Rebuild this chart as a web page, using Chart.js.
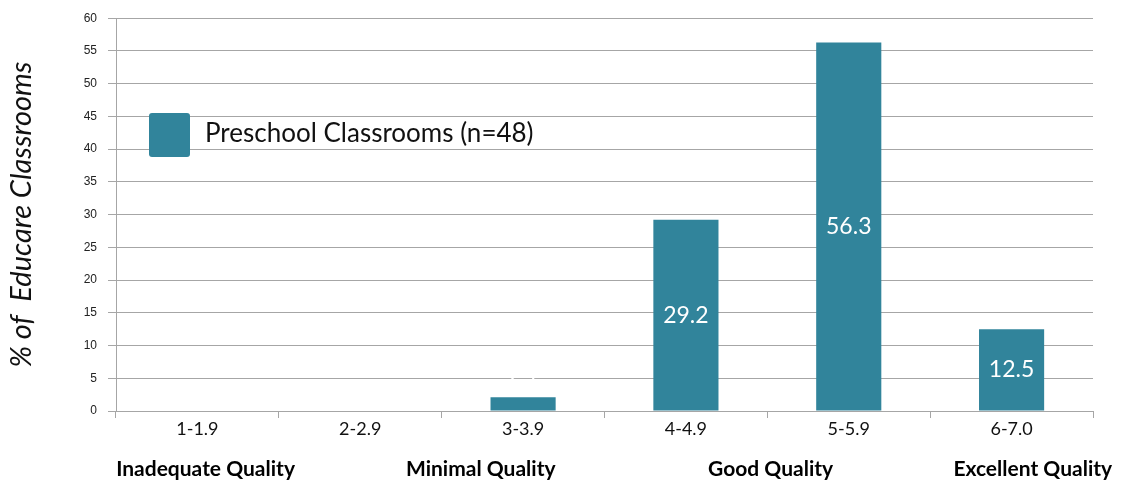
<!DOCTYPE html>
<html>
<head>
<meta charset="utf-8">
<script src="https://cdn.jsdelivr.net/npm/chart.js@4.4.1/dist/chart.umd.min.js"></script>
<style>
    body { margin: 0; background: #fff; }
    #wrap { width: 1130px; height: 483px; }
</style>
</head>
<body>
<div id="wrap"><canvas id="quality-chart" width="1130" height="483"></canvas></div>
<script>
// data
var categories = ['1-1.9', '2-2.9', '3-3.9', '4-4.9', '5-5.9', '6-7.0'];
var values = [0, 0, 2.1, 29.2, 56.3, 12.5];
var seriesName = 'Preschool Classrooms (n=48)';
var qualityLabels = ['Inadequate Quality', 'Minimal Quality', 'Good Quality', 'Excellent Quality'];
// where the quality labels sit, in category index units
var qualityPos = [0.05, 1.74, 3.52, 5.13];

var barColor = '#31849b';
var gridColor = '#a6a6a6';

// labels in the bars + legend + quality labels under the axis
var extras = {
    id: 'extras',
    afterDatasetsDraw: function (chart) {
        var ctx = chart.ctx;
        var meta = chart.getDatasetMeta(0);
        var xs = chart.scales.x;

        ctx.save();
        // value labels
        ctx.font = '23px Lato';
        ctx.fillStyle = '#ffffff';
        ctx.textAlign = 'center';
        ctx.textBaseline = 'middle';
        meta.data.forEach(function (bar, i) {
            if (!values[i]) return;
            var y = (bar.y + bar.base) / 2;
            if (bar.base - bar.y < 30) y = bar.y - 22;
            ctx.fillText(values[i].toFixed(1), bar.x, y);
        });

        // legend box
        ctx.fillStyle = barColor;
        ctx.beginPath();
        ctx.roundRect(149, 113, 41, 44, 3);
        ctx.fill();
        ctx.fillStyle = '#111';
        ctx.textAlign = 'left';
        ctx.font = '26px Lato';
        ctx.fillText(seriesName, 205, 134);

        // quality labels
        ctx.font = 'bold 21px Lato';
        ctx.textAlign = 'center';
        ctx.fillStyle = '#000';
        qualityLabels.forEach(function (lab, i) {
            ctx.fillText(lab, xs.getPixelForValue(qualityPos[i]), 469);
        });
        ctx.restore();
    }
};

var ctx = document.getElementById('quality-chart').getContext('2d');
var chart = new Chart(ctx, {
    type: 'bar',
    data: {
        labels: categories,
        datasets: [{
            label: seriesName,
            backgroundColor: barColor,
            borderWidth: 0,
            data: values,
            barPercentage: 0.4,
            categoryPercentage: 1
        }]
    },
    options: {
        responsive: false,
        animation: false,
        layout: { padding: { top: 17, right: 37, left: 0, bottom: 0 } },
        plugins: {
            legend: { display: false },
            tooltip: { enabled: false }
        },
        scales: {
            x: {
                offset: true,
                grid: {
                    offset: true,
                    drawOnChartArea: false,
                    color: gridColor,
                    tickLength: 7
                },
                border: { color: gridColor },
                ticks: {
                    color: '#111',
                    font: { family: 'Lato', size: 18 },
                    padding: 0
                },
                afterFit: function (scale) { scale.height = 72; }
            },
            y: {
                min: 0,
                max: 60,
                ticks: {
                    stepSize: 5,
                    color: '#222',
                    font: { family: 'Liberation Sans', size: 12 },
                    padding: 11
                },
                grid: { color: gridColor, tickLength: 8 },
                border: { color: gridColor },
                title: {
                    display: true,
                    text: '% of  Educare Classrooms',
                    color: '#111',
                    font: { family: 'Lato', size: 29, style: 'italic', weight: 'normal' },
                    padding: { top: 4, bottom: 0 }
                },
                afterFit: function (scale) { scale.width = 116; }
            }
        }
    },
    plugins: [extras]
});
</script>
</body>
</html>
